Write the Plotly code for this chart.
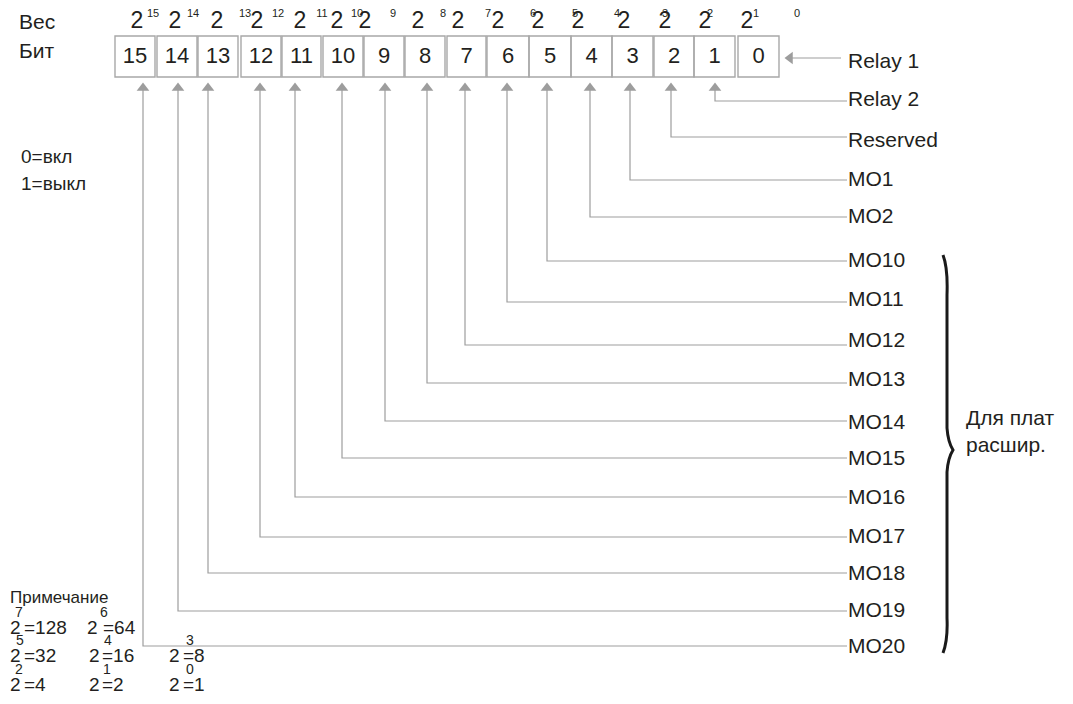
import plotly.graph_objects as go

W, H = 1073, 704
PAD = 8  # default body margin of the html page

# bit register
bits = [15, 14, 13, 12, 11, 10, 9, 8, 7, 6, 5, 4, 3, 2, 1, 0]
box_left = [115, 157, 198, 241, 282, 323, 364, 405, 447, 487, 529, 571, 612, 654, 694, 738]
box_right = [155, 197, 238, 281, 321, 363, 404, 445, 486, 529, 571, 612, 653, 694, 735, 779]

# weight row (the "2" glyphs and the exponents are offset as in the original)
two_x = [137, 175, 217, 257, 300, 337, 365, 418, 458, 498, 538, 578, 624, 665, 705, 747]
exp_text = ["15", "14", "13", "12", "11", "10", "9", "8", "7", "6", "5", "4", "3", "2", "1", "0"]
exp_x = [153, 193, 245, 278, 322, 357, 393, 443, 488, 533, 575, 617, 665, 710, 756, 797]

# outputs mapped to bits
labels = ["Relay 1", "Relay 2", "Reserved", "MO1", "MO2", "MO10", "MO11", "MO12",
          "MO13", "MO14", "MO15", "MO16", "MO17", "MO18", "MO19", "MO20"]
label_bit = [0, 1, 2, 3, 4, 5, 6, 7, 8, 9, 10, 11, 12, 13, 14, 15]
arrow_x = [None, 715, 671, 630, 590, 547, 507, 465, 427, 385, 342, 295, 260, 208, 178, 143]
line_y = [58, 101, 137, 180, 217, 261, 302, 345, 383, 421, 458, 497, 537, 573, 611, 646]
label_y = [63, 101, 142, 181, 218, 262, 301, 342, 381, 424, 460, 499, 538, 575, 612, 648]

# footnote table of powers
note_exp = ["7", "6", "5", "4", "3", "2", "1", "0"]
note_val = ["=128", "=64", "=32", "=16", "=8", "=4", "=2", "=1"]
note_two_x = [8, 85, 8, 87, 167, 8, 87, 167]
note_exp_x = [13, 98, 14, 102, 184, 13, 101, 184]
note_val_x = [22, 101, 22, 100, 181, 22, 100, 181]
note_row = [0, 0, 1, 1, 1, 2, 2, 2]

GRAY = "#9d9d9d"
BOX = "#a8a8a8"
TXT = "#231f20"
FONT = "Liberation Sans, Arial, sans-serif"

BOX_TOP, BOX_BOT = 36, 77
ARROW_Y = 88
LINE_END = 847

fig = go.Figure()
shapes = []

for l, r in zip(box_left, box_right):
    shapes.append(dict(type="rect", x0=l, x1=r, y0=BOX_TOP, y1=BOX_BOT,
                       line=dict(color=BOX, width=1.4), layer="below"))

# bit numbers
fig.add_trace(go.Scatter(
    x=[(l + r) / 2 for l, r in zip(box_left, box_right)],
    y=[(BOX_TOP + BOX_BOT) / 2 + 1] * len(bits),
    mode="text", text=[str(b) for b in bits],
    textfont=dict(family=FONT, size=22, color=TXT), hoverinfo="skip"))

# weights
fig.add_trace(go.Scatter(x=two_x, y=[22] * len(two_x), mode="text", text=["2"] * len(two_x),
                         textfont=dict(family=FONT, size=23, color=TXT), hoverinfo="skip"))
fig.add_trace(go.Scatter(x=exp_x, y=[14] * len(exp_x), mode="text", text=exp_text,
                         textfont=dict(family=FONT, size=11, color=TXT), hoverinfo="skip"))

# leader lines
for name, b, ax, ly in zip(labels, label_bit, arrow_x, line_y):
    if ax is None:
        fig.add_trace(go.Scatter(x=[792, LINE_END - 6], y=[ly, ly], mode="lines",
                                 line=dict(color=GRAY, width=1.2), hoverinfo="skip"))
        fig.add_trace(go.Scatter(x=[790], y=[ly], mode="markers",
                                 marker=dict(symbol="triangle-left", size=11, color=GRAY),
                                 hoverinfo="skip"))
        continue
    fig.add_trace(go.Scatter(x=[ax, ax, LINE_END], y=[ARROW_Y, ly, ly], mode="lines",
                             line=dict(color=GRAY, width=1.2), hoverinfo="skip"))
fig.add_trace(go.Scatter(x=[a for a in arrow_x if a is not None],
                         y=[ARROW_Y] * (len(arrow_x) - 1), mode="markers",
                         marker=dict(symbol="triangle-up", size=11, color=GRAY),
                         hoverinfo="skip"))

# output labels
fig.add_trace(go.Scatter(x=[LINE_END + 1] * len(labels), y=label_y, mode="text",
                         text=labels, textposition="middle right",
                         textfont=dict(family=FONT, size=21, color=TXT), hoverinfo="skip"))

# brace
shapes.append(dict(type="path",
                   path="M 943 255 Q 948 268 947 295 L 947 428 Q 948 442 953 450 "
                        "Q 948 458 947 472 L 947 618 Q 948 640 943 653",
                   line=dict(color="#1a1a1a", width=3)))

annotations = []


def txt(x, y, s, size, anchor="left"):
    annotations.append(dict(x=x, y=y, xref="x", yref="y", text=s, showarrow=False,
                            xanchor=anchor, yanchor="middle",
                            font=dict(family=FONT, size=size, color=TXT)))


txt(17, 21, "Вес", 21)
txt(17, 50, "Бит", 21)
txt(19, 156, "0=вкл", 19)
txt(19, 183, "1=выкл", 19)
txt(964, 417, "Для плат", 21)
txt(964, 444, "расшир.", 21)

txt(8, 597, "Примечание", 17)
row_y = [627, 655, 684]
for e, v, tx, ex, vx, r in zip(note_exp, note_val, note_two_x, note_exp_x, note_val_x, note_row):
    txt(tx, row_y[r], "2", 19)
    txt(ex, row_y[r] - 15, e, 14)
    txt(vx, row_y[r], v, 19)

fig.update_layout(
    width=W - 2 * PAD, height=H - 2 * PAD, margin=dict(l=0, r=0, t=0, b=0),
    paper_bgcolor="white", plot_bgcolor="white", showlegend=False,
    xaxis=dict(range=[PAD, W - PAD], visible=False, fixedrange=True),
    yaxis=dict(range=[H - PAD, PAD], visible=False, fixedrange=True),
    shapes=shapes, annotations=annotations,
)

fig.write_html("out.html")
